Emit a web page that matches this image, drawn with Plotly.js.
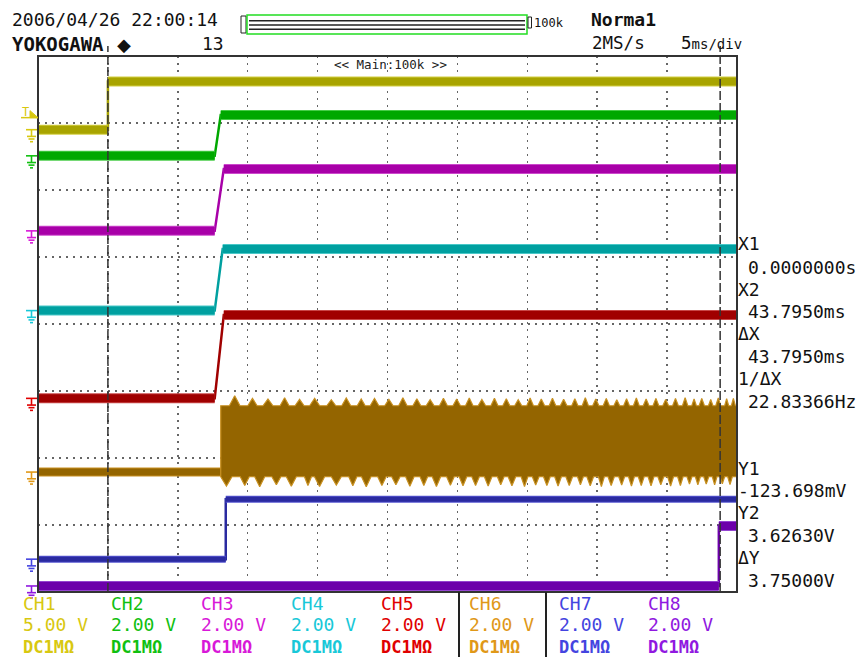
<!DOCTYPE html>
<html><head><meta charset="utf-8">
<script src="https://cdn.plot.ly/plotly-3.0.1.min.js"></script>
<style>html,body{margin:0;padding:0;background:#fff;}#chart{width:862px;height:657px;}</style>
</head><body><div id="chart"></div>
<script>
// ---- data (time in ms, 5 ms/div; vertical in divisions, 8 div) ----
const timeRange = [-5, 45];
const channels = ['CH1','CH2','CH3','CH4','CH5','CH6','CH7','CH8'];
const voltsPerDiv = [5, 2, 2, 2, 2, 2, 2, 2];
const scaleLabels = ['5.00 V','2.00 V','2.00 V','2.00 V','2.00 V','2.00 V','2.00 V','2.00 V'];
const couplingLabels = ['DC1MΩ','DC1MΩ','DC1MΩ','DC1MΩ','DC1MΩ','DC1MΩ','DC1MΩ','DC1MΩ'];
const groundDiv = [6.90, 6.51, 5.39, 4.20, 2.89, 1.79, 0.49, 0.09];
const lowV  = [0, 0, 0, 0, 0, 0, 0, 0];
const highV = [3.60, 1.22, 1.85, 1.84, 2.49, null, 1.79, 1.79];
const edgeStart = [0, 7.64, 7.64, 7.64, 7.64, 8.07, 8.43, 43.70];
const edgeEnd   = [0, 8.07, 8.29, 8.21, 8.29, 8.07, 8.43, 43.70];
// CH6 oscillation envelope
const ch6BodyTopV = 1.98;
const ch6BodyBottomV = -0.14;
const ch6PeakT = [9.07,10.34,11.45,12.64,13.71,14.79,15.98,17.05,18.12,19.07,20.1,21.1,22.1,23.05,24.0,24.95,25.85,26.75,27.65,28.5,29.35,30.2,31.0,31.8,32.6,33.4,34.15,34.9,35.65,36.4,37.1,37.8,38.5,39.2,39.9,40.6,41.29,41.93,42.48,43.12,43.66,44.26,44.74];
const ch6PeakV = [2.28,2.2,2.18,2.22,2.17,2.2,2.16,2.21,2.18,2.2,2.17,2.22,2.19,2.16,2.2,2.18,2.21,2.17,2.2,2.19,2.16,2.21,2.18,2.2,2.17,2.19,2.22,2.18,2.2,2.16,2.19,2.21,2.18,2.2,2.17,2.2,2.22,2.18,2.2,2.17,2.21,2.19,2.2];
const ch6TroughT = [8.48,9.79,10.86,12.05,13.12,14.31,15.14,16.34,17.52,18.48,19.6,20.6,21.6,22.6,23.5,24.5,25.4,26.3,27.2,28.1,28.9,29.8,30.6,31.4,32.2,33.0,33.8,34.5,35.3,36.0,36.75,37.45,38.15,38.85,39.55,40.25,40.95,41.6,42.2,42.8,43.4,43.95,44.5];
const ch6TroughV = [-0.42,-0.4,-0.44,-0.38,-0.42,-0.4,-0.43,-0.39,-0.41,-0.44,-0.4,-0.38,-0.42,-0.4,-0.43,-0.39,-0.41,-0.4,-0.42,-0.38,-0.41,-0.43,-0.39,-0.4,-0.42,-0.4,-0.38,-0.41,-0.43,-0.4,-0.39,-0.42,-0.4,-0.41,-0.38,-0.42,-0.4,-0.36,-0.38,-0.36,-0.38,-0.35,-0.37];
const cursorX = [0, 43.795];
const trigLevelV = 0.9;
const readoutLabels = ['X1','X2','ΔX','1/ΔX','Y1','Y2','ΔY'];
const readoutValues = ['0.0000000s','43.7950ms','43.7950ms','22.83366Hz','-123.698mV','3.62630V','3.75000V'];

// ---- styles ----
const coreColors = ['#a8a400','#00a800','#a800a8','#00a0a0','#a00000','#946500','#2a2aa0','#6c00aa'];
const edgeColors = ['#d2ce40','#48cc48','#cc48cc','#48c8c8','#c84848','#c89020','#5454d0','#9444d0'];
const labelColors = ['#d8c810','#10c010','#d818d8','#18c8d8','#e00000','#e09818','#4444e0','#9018e0'];
const bandW = [8, 8, 8, 8, 8, 7, 5, 8];
const MONO = 'DejaVu Sans Mono';

const L = 38, R = 737, T = 56, B = 592;
const P = px => (px - L) / (R - L);
const Q = py => (B - py) / (B - T);
const toDiv = (i, v) => groundDiv[i] + v / voltsPerDiv[i];

const traces = [];
channels.forEach((name, i) => {
  const lo = toDiv(i, lowV[i]);
  if (i === 5) {
    traces.push({x:[timeRange[0], edgeStart[i]], y:[lo, lo], mode:'lines', line:{color:edgeColors[i], width:bandW[i]+2}, hoverinfo:'skip'});
    traces.push({x:[timeRange[0], edgeStart[i]], y:[lo, lo], mode:'lines', line:{color:coreColors[i], width:bandW[i]}, hoverinfo:'skip'});
    const top = toDiv(i, ch6BodyTopV), bot = toDiv(i, ch6BodyBottomV);
    const xs = [edgeStart[i], edgeStart[i]], ys = [bot, top];
    ch6PeakT.forEach((t, k) => {
      const sp = (k < ch6PeakT.length - 1 ? ch6PeakT[k+1] - t : t - ch6PeakT[k-1]);
      const hw = sp * 0.3;
      xs.push(t - hw, t, t + hw); ys.push(top, toDiv(i, ch6PeakV[k]), top);
    });
    xs.push(timeRange[1], timeRange[1]); ys.push(top, bot);
    for (let k = ch6TroughT.length - 1; k >= 0; k--) {
      const t = ch6TroughT[k];
      const sp = (k < ch6TroughT.length - 1 ? ch6TroughT[k+1] - t : t - ch6TroughT[k-1]);
      const hw = sp * 0.3;
      xs.push(t + hw, t, t - hw); ys.push(bot, toDiv(i, ch6TroughV[k]), bot);
    }
    xs.push(edgeStart[i]); ys.push(bot);
    traces.push({x:xs, y:ys, mode:'lines', fill:'toself', fillcolor:coreColors[i], line:{color:edgeColors[i], width:1.2}, hoverinfo:'skip'});
    return;
  }
  const hi = toDiv(i, highV[i]);
  const xr = timeRange;
  traces.push({x:[xr[0], edgeStart[i], edgeEnd[i], xr[1]], y:[lo, lo, hi, hi], mode:'lines', line:{color:coreColors[i], width:2.5}, hoverinfo:'skip'});
  traces.push({x:[xr[0], edgeStart[i], null, edgeEnd[i], xr[1]], y:[lo, lo, null, hi, hi], mode:'lines', line:{color:edgeColors[i], width:bandW[i]+2}, connectgaps:false, hoverinfo:'skip'});
  traces.push({x:[xr[0], edgeStart[i], null, edgeEnd[i], xr[1]], y:[lo, lo, null, hi, hi], mode:'lines', line:{color:coreColors[i], width:bandW[i]}, connectgaps:false, hoverinfo:'skip'});
});

const shapes = [];
const annotations = [];
function ann(text, px, py, size, color, extra) {
  annotations.push(Object.assign({text:text, xref:'paper', yref:'paper', x:P(px), y:Q(py), xanchor:'left', yanchor:'middle',
    showarrow:false, borderpad:0, font:{family:MONO, size:size, color:color}}, extra || {}));
}
function pline(x0, y0, x1, y1, color, width, dash) {
  shapes.push({type:'line', xref:'paper', yref:'paper', x0:P(x0), y0:Q(y0), x1:P(x1), y1:Q(y1), line:{color:color, width:width, dash:dash || 'solid'}});
}
// frame
shapes.push({type:'rect', xref:'paper', yref:'paper', x0:0, y0:0, x1:1, y1:1, line:{color:'#333', width:2}});
// cursors
cursorX.forEach(cx => shapes.push({type:'line', xref:'x', yref:'paper', x0:cx, x1:cx, y0:0, y1:Q(46), line:{color:'#333', width:1.5, dash:'9px,3px'}}));
// ground markers
channels.forEach((name, i) => {
  const g = B - (B - T) * groundDiv[i] / 8;
  const c = labelColors[i];
  pline(26, g, 37, g, c, 1.6);
  pline(31.5, g, 31.5, g + 6.7, c, 1.6);
  pline(27, g + 6.7, 36, g + 6.7, c, 1.6);
  pline(28.5, g + 9.3, 34.5, g + 9.3, c, 1.6);
  pline(30, g + 12, 33, g + 12, c, 1.6);
});
// trigger marker
const trigPx = B - (B - T) * toDiv(0, trigLevelV) / 8;
pline(21, trigPx, 38, trigPx, labelColors[0], 1.5);
shapes.push({type:'path', xref:'paper', yref:'paper', path:`M ${P(30)},${Q(trigPx-7)} L ${P(38)},${Q(trigPx)} L ${P(30)},${Q(trigPx)} Z`, fillcolor:labelColors[0], line:{color:labelColors[0], width:1}});
ann('T', 21, trigPx - 6, 12, labelColors[0]);
// bottom separators
pline(459, 592, 459, 660, '#222', 2);
pline(546, 592, 546, 660, '#222', 2);
// header bar
shapes.push({type:'rect', xref:'paper', yref:'paper', x0:P(241), x1:P(246), y0:Q(33), y1:Q(16), line:{color:'#222', width:1}});
shapes.push({type:'rect', xref:'paper', yref:'paper', x0:P(247), x1:P(527), y0:Q(34), y1:Q(15), line:{color:'#22dd22', width:1.5}});
[20.8, 25, 29.2].forEach(yy => pline(249, yy, 525, yy, '#222', 1.6));
shapes.push({type:'rect', xref:'paper', yref:'paper', x0:P(528), x1:P(531.5), y0:Q(28), y1:Q(17), line:{color:'#222', width:1}});

// header texts
ann('2006/04/26 22:00:14', 11, 19, 18, '#111');
ann('<b>YOKOGAWA</b>', 11, 44, 19, '#111');
ann('◆', 116, 44, 18, '#111', {font:{family:'DejaVu Sans', size:18, color:'#111'}});
ann('13', 201, 43, 18, '#111');
ann('100k', 533, 23, 12, '#111');
ann('<b>Norma1</b>', 590, 20, 18, '#111');
ann('2MS/s', 591, 43, 17.5, '#111');
ann("5<span style='font-size:14px'>ms/div</span>", 680, 43, 17.5, '#111');
ann('<< Main:100k >>', 390, 65, 12.5, '#222', {xanchor:'center'});
// readouts
const rdY = [[243,267],[289,311],[333,356],[378,401],[468,490],[512,535],[557,580]];
readoutLabels.forEach((lab, k) => {
  ann(lab, 737, rdY[k][0], 18, '#111');
  const v = readoutValues[k];
  ann(v, v.charAt(0) === '-' ? 737 : 747, rdY[k][1], 18, '#111');
});
// channel labels
const colX = [22, 110, 200, 290, 380, 468, 558, 647];
channels.forEach((name, i) => {
  ann(name, colX[i], 603, 18, labelColors[i]);
  ann(scaleLabels[i], colX[i], 624, 18, labelColors[i]);
  ann('<b>' + couplingLabels[i] + '</b>', colX[i], 647, 17, labelColors[i]);
});

const layout = {
  width:862, height:657, showlegend:false,
  margin:{l:L, r:862-R, t:T, b:657-B, pad:0, autoexpand:false},
  paper_bgcolor:'#fff', plot_bgcolor:'#fff',
  xaxis:{range:timeRange, dtick:5, tick0:0, showgrid:true, gridcolor:'#666', gridwidth:1.5, griddash:'1.5px,5.5px',
    showticklabels:false, ticks:'', zeroline:false, showline:false, fixedrange:true},
  yaxis:{range:[0,8], dtick:1, tick0:0, showgrid:true, gridcolor:'#666', gridwidth:1.5, griddash:'1.5px,5.5px',
    showticklabels:false, ticks:'', zeroline:false, showline:false, fixedrange:true},
  shapes:shapes, annotations:annotations, hovermode:false
};
Plotly.newPlot('chart', traces, layout, {displayModeBar:false, staticPlot:true});
</script></body></html>
